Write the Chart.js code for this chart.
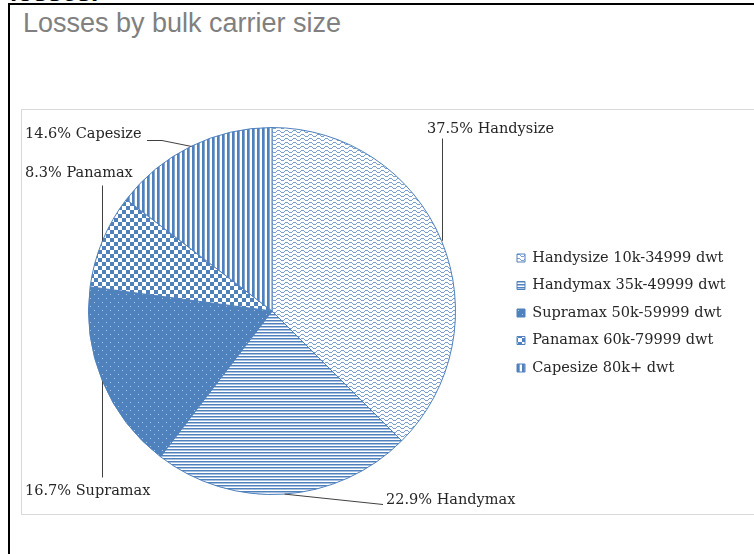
<!DOCTYPE html>
<html><head><meta charset="utf-8">
<script src="https://cdn.jsdelivr.net/npm/chart.js@4/dist/chart.umd.min.js"></script>
<style>
html,body{margin:0;padding:0;background:#fff;width:754px;height:554px;overflow:hidden;position:relative;}
#frame{position:absolute;left:8px;top:3px;width:800px;height:600px;border-left:2px solid #000;border-top:2px solid #000;}
#cut{position:absolute;left:10px;top:-21px;font:bold 26px/26px "Liberation Sans",Arial,sans-serif;color:#000;white-space:nowrap;}
#title{position:absolute;left:23px;top:10px;font:27px/27px "Liberation Sans",Arial,sans-serif;color:#808080;white-space:nowrap;}
#box{position:absolute;left:21px;top:109px;width:800px;height:404px;border:1px solid #d9d9d9;}
#c{position:absolute;left:22px;top:110px;}
</style></head>
<body>
<div id="cut">losses.</div>
<div id="frame"></div>
<div id="title">Losses by bulk carrier size</div>
<div id="box"></div>
<canvas id="c" width="732" height="404"></canvas>
<script>
// ---- data ----
const categories = ['Handysize 10k-34999 dwt', 'Handymax 35k-49999 dwt', 'Supramax 50k-59999 dwt', 'Panamax 60k-79999 dwt', 'Capesize 80k+ dwt'];
const shortNames = ['Handysize', 'Handymax', 'Supramax', 'Panamax', 'Capesize'];
const shares = [37.5, 22.9, 16.7, 8.3, 14.6];

// ---- label layout (offsets from pie centre, px) ----
const labelLayout = [
  {path: [[null, -173]], text: [155, -182]},
  {path: [[111, 193]], text: [114, 189]},
  {path: [[null, 166]], text: [-247, 180]},
  {path: [[null, -126]], text: [-247, -138]},
  {path: [[-110, -171], [-125, -171]], text: [-247, -177]}
];

const BLUE = '#4f81bd';
const SERIF = '"DejaVu Serif", serif';
const FONT_SIZE = 14.5;
const canvas = document.getElementById('c');
const mainCtx = canvas.getContext('2d');

function tile(w, h, bg, cells) {
  const c = document.createElement('canvas');
  c.width = w; c.height = h;
  const g = c.getContext('2d');
  g.fillStyle = bg; g.fillRect(0, 0, w, h);
  cells.forEach(([x, y, col]) => { g.fillStyle = col; g.fillRect(x, y, 1, 1); });
  return mainCtx.createPattern(c, 'repeat');
}
const waveY = [0, 0, 1, 2, 2, 2, 1, 0];
const wave = tile(8, 4, '#ffffff', waveY.map((y, x) => [x, y, '#7b9fd2']));
const hlines = tile(1, 3, '#ffffff', [[0, 0, BLUE], [0, 1, '#aac0e1']]);
const dots = tile(8, 8, BLUE, [[0, 0, '#b4c8e6'], [4, 4, '#b4c8e6']]);
const chkCells = [];
for (let y = 0; y < 8; y++) for (let x = 0; x < 8; x++) {
  if (((x >> 2) + (y >> 2)) % 2 === 0) chkCells.push([x, y, BLUE]);
}
const checker = tile(8, 8, '#ffffff', chkCells);
const vlines = tile(5, 1, '#ffffff', [[0, 0, BLUE], [1, 0, BLUE], [2, 0, '#8aa8d4']]);
const patterns = [wave, hlines, dots, checker, vlines];

// legend width: padding + box + half font + widest text + 10 (Chart.js vertical legend fit)
mainCtx.font = FONT_SIZE + 'px ' + SERIF;
const maxText = Math.max(...categories.map(t => mainCtx.measureText(t).width));
const LEG_PAD = 13, BOX = 8;
const legendWidth = LEG_PAD + BOX + FONT_SIZE / 2 + maxText + 10;
const legendLeft = 482; // chart area right edge
const padRight = Math.max(0, canvas.width - legendLeft - legendWidth);

const labelPlugin = {
  id: 'leaderLabels',
  afterDatasetsDraw(chart) {
    const meta = chart.getDatasetMeta(0);
    const ctx = chart.ctx;
    ctx.save();
    ctx.font = FONT_SIZE + 'px ' + SERIF;
    ctx.fillStyle = '#262626';
    ctx.strokeStyle = '#404040';
    ctx.lineWidth = 1;
    ctx.textBaseline = 'middle';
    ctx.textAlign = 'left';
    meta.data.forEach((arc, i) => {
      const p = arc.getProps(['x', 'y', 'startAngle', 'endAngle', 'outerRadius'], true);
      const mid = (p.startAngle + p.endAngle) / 2;
      const ex = p.x + Math.cos(mid) * p.outerRadius;
      const ey = p.y + Math.sin(mid) * p.outerRadius;
      const L = labelLayout[i];
      ctx.beginPath();
      ctx.moveTo(Math.round(ex) + 0.5, ey);
      L.path.forEach(([dx, dy]) => {
        const x = dx === null ? Math.round(ex) + 0.5 : p.x + dx;
        ctx.lineTo(x, Math.round(p.y + dy) + 0.5);
      });
      ctx.stroke();
      ctx.fillText(shares[i].toFixed(1) + '% ' + shortNames[i], p.x + L.text[0], p.y + L.text[1]);
    });
    ctx.restore();
  }
};

new Chart(canvas, {
  type: 'pie',
  data: {
    labels: categories,
    datasets: [{data: shares, backgroundColor: patterns, borderColor: BLUE, borderWidth: 1}]
  },
  options: {
    responsive: false,
    animation: false,
    devicePixelRatio: 1,
    events: [],
    layout: {padding: {left: 18, right: padRight, top: 17, bottom: 19}},
    plugins: {
      legend: {
        position: 'right',
        title: {display: true, text: ' ', font: {size: 4, lineHeight: 1}, padding: 0},
        labels: {boxWidth: BOX, boxHeight: 8, padding: LEG_PAD, color: '#262626', font: {family: SERIF, size: FONT_SIZE}}
      },
      tooltip: {enabled: false}
    }
  },
  plugins: [labelPlugin]
});
</script>
</body></html>
